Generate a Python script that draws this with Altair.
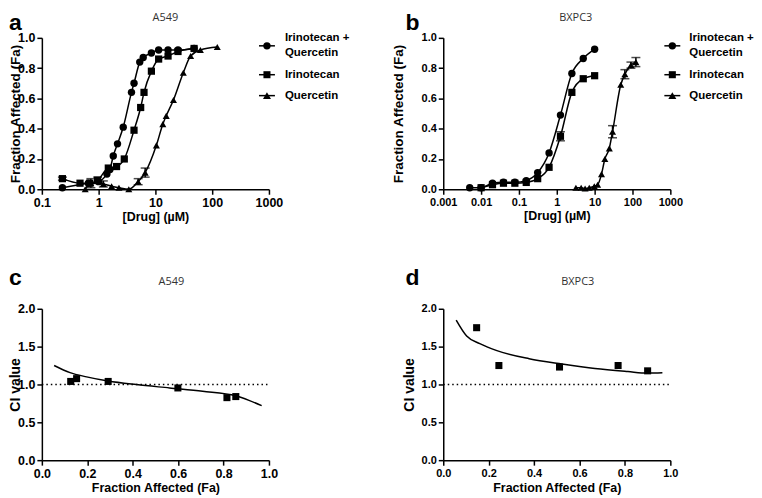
import altair as alt
import pandas as pd

# ---------------- data ----------------
SERIES = ["Irinotecan + Quercetin", "Irinotecan", "Quercetin"]

# Panel a: A549 dose response
a_combo_x = [0.23, 0.66, 1.0, 1.4, 1.58, 1.81, 2.15, 2.71, 3.79, 4.2, 5.3, 6.1, 8.5, 11.4, 16.7, 25, 48]
a_combo_fa = [0.01, 0.04, 0.05, 0.10, 0.13, 0.22, 0.30, 0.41, 0.64, 0.70, 0.84, 0.87, 0.90, 0.92, 0.92, 0.92, 0.93]
a_combo_err = [0, 0, 0, 0, 0, 0, 0, 0, 0, 0, 0, 0, 0, 0, 0, 0, 0]
a_iri_x = [0.23, 0.47, 0.7, 0.96, 1.48, 2.07, 2.83, 4.2, 5.5, 6.3, 8.5, 11.4, 16.7, 25, 48]
a_iri_fa = [0.07, 0.04, 0.04, 0.06, 0.14, 0.15, 0.20, 0.39, 0.54, 0.64, 0.78, 0.86, 0.88, 0.91, 0.93]
a_iri_err = [0.01, 0, 0, 0.02, 0, 0, 0, 0, 0, 0, 0, 0, 0, 0, 0]
a_que_x = [0.58, 0.73, 1.21, 1.69, 2.28, 3.4, 4.97, 6.6, 10.4, 13.5, 15.5, 20.8, 31, 41.7, 62, 123]
a_que_fa = [0.0, 0.04, 0.035, 0.02, 0.01, 0.0, 0.05, 0.11, 0.29, 0.43, 0.485, 0.59, 0.77, 0.88, 0.92, 0.94]
a_que_err = [0, 0.03, 0.02, 0, 0, 0, 0.02, 0.03, 0, 0, 0, 0, 0, 0, 0, 0]

# Panel b: BXPC3 dose response
b_combo_x = [0.005, 0.01, 0.02, 0.039, 0.078, 0.156, 0.3125, 0.625, 1.25, 2.5, 5, 10]
b_combo_fa = [0.01, 0.01, 0.04, 0.046, 0.046, 0.057, 0.11, 0.24, 0.49, 0.765, 0.864, 0.925]
b_combo_err = [0, 0, 0, 0, 0, 0, 0, 0, 0, 0, 0, 0]
b_iri_x = [0.01, 0.02, 0.039, 0.078, 0.156, 0.3125, 0.625, 1.25, 2.5, 5, 10]
b_iri_fa = [0.01, 0.03, 0.04, 0.04, 0.045, 0.07, 0.145, 0.35, 0.64, 0.73, 0.75]
b_iri_err = [0, 0, 0, 0, 0, 0, 0, 0.03, 0, 0, 0]
b_que_x = [3.2, 4.4, 5.6, 7.2, 9.8, 12, 15.2, 18.6, 24.4, 29.7, 49, 63, 91, 123]
b_que_fa = [0.01, 0.01, 0.005, 0.01, 0.02, 0.03, 0.10, 0.20, 0.27, 0.38, 0.69, 0.76, 0.82, 0.84]
b_que_err = [0, 0, 0, 0, 0, 0, 0, 0, 0, 0.04, 0, 0.03, 0.02, 0.03]

# Panel c: A549 combination index
c_pts_fa = [0.127, 0.153, 0.292, 0.599, 0.815, 0.854]
c_pts_ci = [1.04, 1.077, 1.04, 0.954, 0.826, 0.84]
c_curve_fa = [0.054, 0.124, 0.197, 0.292, 0.416, 0.562, 0.708, 0.854, 0.912, 0.968]
c_curve_ci = [1.25, 1.156, 1.10, 1.045, 0.998, 0.954, 0.91, 0.85, 0.79, 0.72]

# Panel d: BXPC3 combination index
d_pts_fa = [0.147, 0.245, 0.512, 0.77, 0.90]
d_pts_ci = [1.75, 1.25, 1.23, 1.25, 1.18]
d_curve_fa = [0.057, 0.103, 0.161, 0.233, 0.378, 0.523, 0.668, 0.813, 0.90, 0.965]
d_curve_ci = [1.85, 1.64, 1.54, 1.45, 1.34, 1.27, 1.21, 1.17, 1.15, 1.155]

CI_REFERENCE = 1.0

# ---------------- styling ----------------
W, H = 228, 152
FONT = "Liberation Sans"
TITLE_FONT = "Open Sans"
SHAPES = ["circle", "square", "triangle-up"]
SIZES = [55, 50, 65]


def one_row():
    return alt.Data(values=[{"k": 0}])


def axis(values, fmt, title, label_size, title_size, **kw):
    return alt.Axis(values=values, format=fmt, title=title, grid=False,
                    domainColor="black", domainWidth=1.5, tickColor="black",
                    tickWidth=1.5, tickSize=5, labelFont=FONT, labelFontWeight="bold",
                    labelColor="black", labelFontSize=label_size, labelPadding=2,
                    labelFlush=False, labelOverlap=False,
                    titleFont=FONT, titleFontWeight="bold", titleColor="black",
                    titleFontSize=title_size, **kw)


def text_layer(txt, x, y, size, weight="normal", font=FONT, color="black",
               align="left", baseline="alphabetic"):
    return alt.Chart(one_row()).mark_text(
        text=txt, font=font, fontSize=size, fontWeight=weight, color=color,
        align=align, baseline=baseline
    ).encode(x=alt.value(x), y=alt.value(y))


def legend_layers(line_x1, line_x2, text_x, font_size):
    layers = []
    entries = [
        (SHAPES[0], SIZES[0], 8, ["Irinotecan +", "Quercetin"], [0, 15]),
        (SHAPES[1], SIZES[1], 37, ["Irinotecan"], [37]),
        (SHAPES[2], SIZES[2], 58, ["Quercetin"], [58]),
    ]
    cx = (line_x1 + line_x2) / 2
    for shape, size, sy, lines, ly in entries:
        layers.append(alt.Chart(one_row()).mark_rule(color="black", strokeWidth=1.5).encode(
            x=alt.value(line_x1), x2=alt.value(line_x2), y=alt.value(sy)))
        layers.append(alt.Chart(one_row()).mark_point(
            shape=shape, size=size, filled=True, color="black", opacity=1).encode(
            x=alt.value(cx), y=alt.value(sy)))
        for t, yy in zip(lines, ly):
            layers.append(text_layer(t, text_x, yy, font_size, weight="bold",
                                     baseline="middle"))
    return layers


def dose_df(xs, fas, errs):
    rows = []
    for name, x, fa, er in zip(SERIES, xs, fas, errs):
        for xi, fi, ei in zip(x, fa, er):
            rows.append({"s": name, "x": xi, "fa": fi, "err": ei})
    return pd.DataFrame(rows)


def dose_panel(df, xdomain, xvalues, title, letter, label_size, ytitle_x, xtitle_y,
               title_pos, letter_pos, leg):
    xs = alt.Scale(type="log", domain=xdomain, nice=False)
    ys = alt.Scale(domain=[0, 1], nice=False)
    xax = axis(xvalues, "~g", "[Drug] (µM)", label_size, 12.5, titleY=xtitle_y)
    yax = axis([0, 0.2, 0.4, 0.6, 0.8, 1.0], ".1f", "Fraction Affected (Fa)",
               label_size, 13.5, titleX=ytitle_x)
    ex = alt.X("x:Q", scale=xs, axis=xax)
    base = alt.Chart(df)
    line = base.mark_line(color="black", strokeWidth=1.5, interpolate="monotone").encode(
        x=ex, y=alt.Y("fa:Q", scale=ys, axis=yax), detail="s:N")
    err = base.transform_filter("datum.err > 0").transform_calculate(
        lo="datum.fa - datum.err", hi="datum.fa + datum.err")
    err_rule = err.mark_rule(color="black", strokeWidth=1.5).encode(
        x=ex, y=alt.Y("lo:Q", scale=ys, axis=yax), y2="hi:Q")
    err_hi = err.mark_tick(color="black", orient="horizontal", size=9, thickness=1.5).encode(
        x=ex, y=alt.Y("hi:Q", scale=ys, axis=yax))
    err_lo = err.mark_tick(color="black", orient="horizontal", size=9, thickness=1.5).encode(
        x=ex, y=alt.Y("lo:Q", scale=ys, axis=yax))
    pts = base.mark_point(filled=True, color="black", opacity=1).encode(
        x=ex, y=alt.Y("fa:Q", scale=ys, axis=yax),
        shape=alt.Shape("s:N", scale=alt.Scale(domain=SERIES, range=SHAPES), legend=None),
        size=alt.Size("s:N", scale=alt.Scale(domain=SERIES, range=SIZES), legend=None))
    layers = [line, err_rule, err_hi, err_lo, pts]
    layers.append(text_layer(title, title_pos[0], title_pos[1], 11, font=TITLE_FONT,
                             color="#333333", align="center", baseline="middle"))
    layers.append(text_layer(letter, letter_pos[0], letter_pos[1], 23, weight="bold"))
    layers += legend_layers(*leg)
    return alt.layer(*layers).properties(width=W, height=H)


def ci_panel(pfa, pci, cfa, cci, title, letter, label_size, ytitle_x, xtitle_y,
             title_pos, letter_pos):
    xs = alt.Scale(domain=[0, 1], nice=False)
    ys = alt.Scale(domain=[0, 2], nice=False)
    xax = axis([0, 0.2, 0.4, 0.6, 0.8, 1.0], ".1f", "Fraction Affected (Fa)",
               label_size, 12.5, titleY=xtitle_y)
    yax = axis([0, 0.5, 1.0, 1.5, 2.0], ".1f", "CI value", label_size, 14, titleX=ytitle_x)
    ex = alt.X("fa:Q", scale=xs, axis=xax)
    ey = alt.Y("ci:Q", scale=ys, axis=yax)
    curve = alt.Chart(pd.DataFrame({"fa": cfa, "ci": cci})).mark_line(
        color="black", strokeWidth=1.5, interpolate="monotone").encode(x=ex, y=ey)
    ref = alt.Chart(pd.DataFrame({"ci": [CI_REFERENCE]})).mark_rule(
        color="black", strokeWidth=1.5, strokeDash=[1.5, 3]).encode(
        y=ey, x=alt.value(0), x2=alt.value(W))
    pts = alt.Chart(pd.DataFrame({"fa": pfa, "ci": pci})).mark_point(
        shape="square", size=50, filled=True, color="black", opacity=1).encode(x=ex, y=ey)
    layers = [curve, ref, pts,
              text_layer(title, title_pos[0], title_pos[1], 11, font=TITLE_FONT,
                         color="#333333", align="center", baseline="middle"),
              text_layer(letter, letter_pos[0], letter_pos[1], 23, weight="bold")]
    return alt.layer(*layers).properties(width=W, height=H)


df_a = dose_df([a_combo_x, a_iri_x, a_que_x], [a_combo_fa, a_iri_fa, a_que_fa],
               [a_combo_err, a_iri_err, a_que_err])
df_b = dose_df([b_combo_x, b_iri_x, b_que_x], [b_combo_fa, b_iri_fa, b_que_fa],
               [b_combo_err, b_iri_err, b_que_err])

panel_a = dose_panel(df_a, [0.1, 1000], [0.1, 1, 10, 100, 1000], "A549", "a", 12.5, -19, 21,
                     (124, -20), (-33, -8), (218, 234, 244, 11.5))
panel_b = dose_panel(df_b, [0.001, 1000], [0.001, 0.01, 0.1, 1, 10, 100, 1000], "BXPC3", "b",
                     11, -38, 20, (133, -20), (-38, -8), (222, 238, 247, 11.5))
panel_c = ci_panel(c_pts_fa, c_pts_ci, c_curve_fa, c_curve_ci, "A549", "c", 12.5, -19, 21,
                   (130, -27), (-33, -24))
panel_d = ci_panel(d_pts_fa, d_pts_ci, d_curve_fa, d_curve_ci, "BXPC3", "d", 11, -27, 21,
                   (135, -27), (-38, -24))

chart = alt.concat(panel_a, panel_b, panel_c, panel_d, columns=2,
                   spacing={"row": 120, "column": 175}, bounds="flush").properties(
    padding={"top": 3, "left": 0, "right": 0, "bottom": 0}
).configure_view(stroke=None)

chart.save("out.html", embed_options={"renderer": "svg", "actions": False})
